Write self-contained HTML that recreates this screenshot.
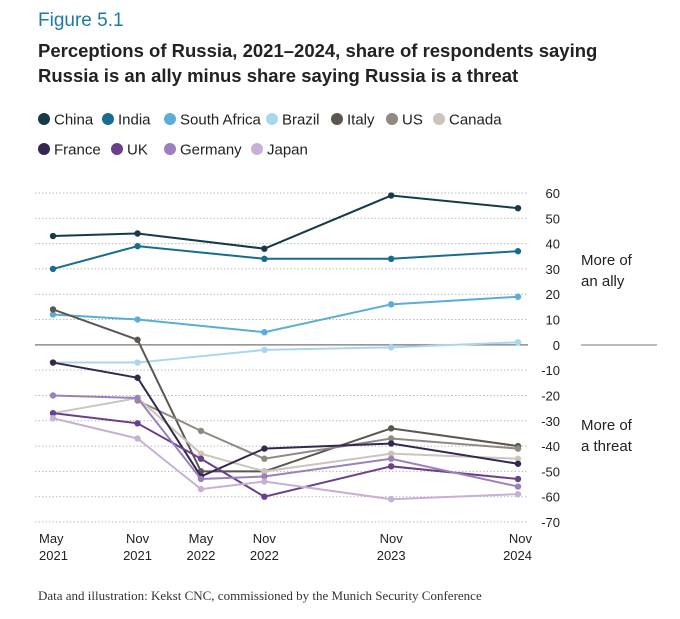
<!DOCTYPE html>
<html><head><meta charset="utf-8"><style>
body{margin:0;background:#fff;font-family:"Liberation Sans",sans-serif;}
svg text{font-family:"Liberation Sans",sans-serif;}
</style></head><body>
<svg width="680" height="614" viewBox="0 0 680 614">
<text x="38" y="26" font-size="19" fill="#1c7aa6">Figure 5.1</text>
<text x="38" y="57" font-size="18.5" font-weight="bold" fill="#222">Perceptions of Russia, 2021–2024, share of respondents saying</text>
<text x="38" y="82" font-size="18.5" font-weight="bold" fill="#222">Russia is an ally minus share saying Russia is a threat</text>
<g id="legend"></g>
<g id="grid"></g>
<g id="series"></g>
<g id="xaxis"></g>
<text x="581" y="265" font-size="15" fill="#222">More of</text>
<text x="581" y="286" font-size="15" fill="#222">an ally</text>
<line x1="581" y1="345" x2="657" y2="345" stroke="#777" stroke-width="1"/>
<text x="581" y="430" font-size="15" fill="#222">More of</text>
<text x="581" y="451" font-size="15" fill="#222">a threat</text>
<text x="38" y="600" font-size="13" fill="#333" style="font-family:'Liberation Serif',serif">Data and illustration: Kekst CNC, commissioned by the Munich Security Conference</text>
</svg>
<script>
const months=[-2,6,12,18,30,42];
const xLabels=[["May","2021"],["Nov","2021"],["May","2022"],["Nov","2022"],["Nov","2023"],["Nov","2024"]];
const yTicks=[60,50,40,30,20,10,0,-10,-20,-30,-40,-50,-60,-70];
const names=["China","India","South Africa","Brazil","Italy","US","Canada","France","UK","Germany","Japan"];
const colors=["#163a47","#176c8f","#5aaed6","#a9d6ef","#5b5750","#8f8981","#cbc4bc","#35284f","#6a3f8c","#9c80bd","#c6b0d6"];
const china=[43,44,null,38,59,54];
const india=[30,39,null,34,34,37];
const southAfrica=[12,10,null,5,16,19];
const brazil=[-7,-7,null,-2,-1,1];
const italy=[14,2,-50,-50,-33,-40];
const us=[null,-22,-34,-45,-37,-41];
const canada=[-27,-21,-43,-50,-43,-45];
const france=[-7,-13,-52,-41,-39,-47];
const uk=[-27,-31,-45,-60,-48,-53];
const germany=[-20,-21,-53,-52,-45,-56];
const japan=[-29,-37,-57,-54,-61,-59];
const seriesVals=[china,india,southAfrica,brazil,italy,us,canada,france,uk,germany,japan];
const NS="http://www.w3.org/2000/svg";
const x=m=>53+(m-(-2))*(518-53)/44;
const y=v=>193+(60-v)*(522-193)/130;
function mk(t,a,p){const e=document.createElementNS(NS,t);for(const k in a)e.setAttribute(k,a[k]);p.appendChild(e);return e;}
const grid=document.getElementById('grid');
yTicks.forEach(t=>{
 const l=mk('line',{x1:35,x2:528,y1:y(t),y2:y(t),stroke:t===0?'#777':'#bbb','stroke-width':t===0?1.2:1,'stroke-dasharray':t===0?'':'1.5,2'},grid);
 
 
 const tx=mk('text',{x:560,y:y(t)+5,'font-size':13,fill:'#222','text-anchor':'end'},grid);
 tx.textContent=t;
 
 
});
const xa=document.getElementById('xaxis');
months.forEach((m,i)=>{
 const anc=i===0?'start':(i===months.length-1?'end':'middle');
 const xx=i===0?x(m)-14:(i===months.length-1?x(m)+14:x(m));
 xLabels[i].forEach((s,j)=>{
  const t=mk('text',{x:xx,y:543+j*17,'font-size':13,fill:'#222','text-anchor':anc},xa);
  t.textContent=s;
  
  
 });
});
const sg=document.getElementById('series');
seriesVals.forEach((vals,si)=>{
 const g=mk('g',{},sg);
 
 
 const pts=[];vals.forEach((v,i)=>{if(v!==null)pts.push([x(months[i]),y(v)]);});
 const pl=mk('polyline',{points:pts.map(p=>p.join(',')).join(' '),fill:'none',stroke:colors[si],'stroke-width':2},g);
 
 
 pts.forEach(p=>{const c=mk('circle',{cx:p[0],cy:p[1],r:3.2,fill:colors[si]},g);
  
  });
});
const lg=document.getElementById('legend');
const lx=[[44,108,170,272,337,392,439],[44,117,170,257]];
names.forEach((n,i)=>{
 const row=i<7?0:1, col=i<7?i:i-7;
 const cx=lx[row][col], cy=row===0?119:149;
 const g=mk('g',{},lg);
 
 
 mk('circle',{cx:cx,cy:cy,r:6,fill:colors[i]},g);
 const t=mk('text',{x:cx+10,y:cy+5.5,'font-size':15,fill:'#222'},g);
 t.textContent=n;
});
</script>
</body></html>
